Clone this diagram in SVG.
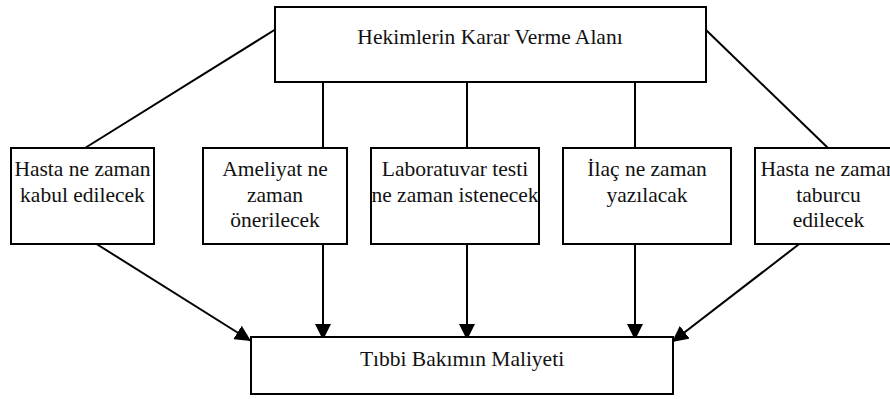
<svg xmlns="http://www.w3.org/2000/svg" width="890" height="399" viewBox="0 0 890 399">
<style>
.box{fill:#fff;stroke:#000;stroke-width:2}
.t{font-family:'Liberation Serif','Times New Roman','Tinos','DejaVu Serif',serif;font-size:21.5px;fill:#111;text-anchor:middle}
.ln{stroke:#000;stroke-width:2;fill:none}
.ar{stroke:#000;stroke-width:2;fill:none;marker-end:url(#ah)}
</style>
<defs>
<marker id="ah" markerUnits="userSpaceOnUse" markerWidth="17" markerHeight="16" viewBox="0 0 17 16" refX="16" refY="8" orient="auto">
<path d="M0,0 L16,8 L0,16 Z" fill="#000"/>
</marker>
</defs>
<g id="connectors">
<line class="ln" x1="276" y1="29" x2="85" y2="148"/>
<line class="ln" x1="706" y1="30" x2="828" y2="148"/>
<line class="ln" x1="323" y1="82" x2="323" y2="148"/>
<line class="ln" x1="467" y1="82" x2="467" y2="148"/>
<line class="ln" x1="635" y1="82" x2="635" y2="148"/>
<line class="ar" x1="323" y1="244" x2="323" y2="340"/>
<line class="ar" x1="467" y1="244" x2="467" y2="340"/>
<line class="ar" x1="635" y1="244" x2="635" y2="340"/>
<line class="ar" x1="87" y1="238" x2="251" y2="341"/>
<line class="ar" x1="807" y1="238" x2="672" y2="342"/>
</g>
<g id="top">
<rect class="box" x="275" y="7" width="431" height="75"/>
<text class="t" x="490" y="44">Hekimlerin Karar Verme Alanı</text>
</g>
<g id="n1">
<rect class="box" x="11" y="148" width="143" height="96"/>
<text class="t" x="82.5" y="176">Hasta ne zaman</text>
<text class="t" x="82.5" y="202">kabul edilecek</text>
</g>
<g id="n2">
<rect class="box" x="203" y="148" width="144" height="96"/>
<text class="t" x="275" y="176">Ameliyat ne</text>
<text class="t" x="275" y="202">zaman</text>
<text class="t" x="275" y="227">önerilecek</text>
</g>
<g id="n3">
<rect class="box" x="371" y="148" width="168" height="96"/>
<text class="t" x="455" y="176">Laboratuvar testi</text>
<text class="t" x="455" y="202">ne zaman istenecek</text>
</g>
<g id="n4">
<rect class="box" x="563" y="148" width="168" height="96"/>
<text class="t" x="647" y="176">İlaç ne zaman</text>
<text class="t" x="647" y="202">yazılacak</text>
</g>
<g id="n5">
<rect class="box" x="755" y="148" width="146" height="96"/>
<text class="t" x="828.5" y="176">Hasta ne zaman</text>
<text class="t" x="828.5" y="202">taburcu</text>
<text class="t" x="828.5" y="227">edilecek</text>
</g>
<g id="bottom">
<rect class="box" x="251" y="337" width="422" height="57"/>
<text class="t" x="462" y="366">Tıbbi Bakımın Maliyeti</text>
</g>
</svg>
